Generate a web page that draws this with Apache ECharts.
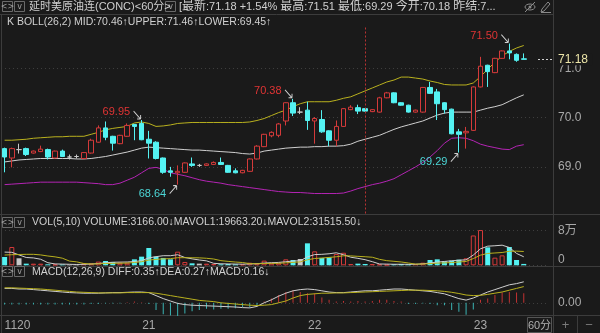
<!DOCTYPE html>
<html><head><meta charset="utf-8">
<script src="https://cdn.jsdelivr.net/npm/echarts@6/dist/echarts.min.js"></script>
<style>html,body{margin:0;padding:0;background:#1a1a1a;}#c{width:600px;height:333px;}</style>
</head><body><div id="c"></div><script>
// ---------- data ----------
const dayLabels = ['1120', '21', '22', '23'];
const dayStarts = [0, 20, 43, 66];

const opens = [69.37,69.18,69.35,69.37,69.28,69.31,69.35,69.18,69.32,69.20,
 69.21,69.17,69.28,69.50,69.79,69.62,69.47,69.62,69.86,69.88,
 69.56,69.50,69.18,68.92,68.88,68.89,69.06,69.03,69.03,69.05,
 69.09,69.03,68.92,68.88,68.91,69.16,69.41,69.63,69.64,69.93,
 70.30,70.11,70.15,69.93,69.96,69.73,69.54,69.82,70.16,70.20,
 70.18,70.12,70.11,70.40,70.50,70.30,70.25,70.11,70.11,70.61,
 70.52,70.30,70.17,69.71,69.69,69.74,70.62,71.06,70.91,71.20,
 71.35,71.28,71.19];
const closes = [69.20,69.37,69.35,69.25,69.32,69.36,69.20,69.32,69.21,69.20,
 69.21,69.29,69.54,69.79,69.60,69.48,69.64,69.84,69.82,69.55,
 69.48,69.17,68.89,68.89,68.91,69.08,69.03,69.03,69.06,69.09,
 69.05,68.89,68.88,68.93,69.16,69.42,69.66,69.70,69.87,70.30,
 70.09,70.11,69.94,69.98,69.71,69.54,69.82,70.18,70.21,70.13,
 70.13,70.16,70.40,70.50,70.30,70.25,70.11,70.15,70.61,70.49,
 70.28,70.16,69.67,69.66,69.72,70.62,71.04,70.93,71.20,71.35,
 71.31,71.16,71.18];
const lows = [68.89,68.99,69.27,69.22,69.27,69.30,69.15,69.17,69.20,69.15,
 69.17,69.16,69.27,69.49,69.54,69.33,69.46,69.61,69.54,69.54,
 69.17,69.15,68.86,68.80,68.64,68.88,69.00,69.00,69.02,69.04,
 69.04,68.88,68.87,68.87,68.90,69.15,69.40,69.60,69.60,69.84,
 70.03,70.07,69.75,69.47,69.69,69.42,69.42,69.81,70.15,70.07,
 70.12,70.11,70.10,70.39,70.29,70.24,70.10,70.10,70.10,70.48,
 69.95,70.08,69.66,69.29,69.37,69.73,70.61,70.62,70.90,71.19,
 71.18,71.13,71.18];
const highs = [69.39,69.39,69.47,69.39,69.33,69.43,69.37,69.33,69.35,69.25,
 69.25,69.30,69.57,69.84,69.92,69.63,69.65,69.88,69.87,69.95,
 69.73,69.52,69.19,69.00,69.03,69.09,69.19,69.06,69.07,69.11,
 69.19,69.04,68.97,68.94,69.17,69.44,69.67,69.72,69.89,70.31,
 70.38,70.21,70.32,70.01,70.15,69.74,69.94,70.19,70.25,70.26,
 70.19,70.17,70.42,70.52,70.51,70.31,70.26,70.16,70.62,70.72,
 70.58,70.31,70.18,69.77,69.81,70.63,71.23,71.07,71.21,71.36,
 71.50,71.30,71.30];

const bollUpper = [69.54,69.54,69.55,69.56,69.58,69.59,69.60,69.61,69.61,69.62,
 69.62,69.62,69.66,69.70,69.75,69.78,69.80,69.82,69.89,69.91,
 69.88,69.82,69.83,69.85,69.88,69.89,69.90,69.90,69.90,69.90,
 69.90,69.90,69.90,69.90,69.91,69.94,69.98,70.04,70.10,70.15,
 70.22,70.28,70.32,70.32,70.32,70.32,70.35,70.39,70.42,70.48,
 70.54,70.60,70.66,70.72,70.76,70.82,70.82,70.80,70.78,70.74,
 70.71,70.67,70.66,70.66,70.66,70.70,70.83,70.98,71.12,71.25,
 71.34,71.41,71.46];
const bollMid = [69.10,69.12,69.14,69.15,69.16,69.17,69.17,69.17,69.17,69.17,
 69.16,69.16,69.17,69.19,69.21,69.24,69.27,69.30,69.34,69.38,
 69.40,69.39,69.38,69.37,69.36,69.35,69.34,69.34,69.33,69.32,
 69.31,69.30,69.29,69.27,69.26,69.28,69.32,69.34,69.36,69.38,
 69.39,69.40,69.40,69.41,69.41,69.42,69.42,69.43,69.46,69.52,
 69.56,69.60,69.64,69.70,69.76,69.81,69.85,69.89,69.93,69.99,
 70.05,70.09,70.11,70.11,70.11,70.11,70.15,70.19,70.22,70.26,
 70.33,70.40,70.46];
const bollLower = [68.64,68.65,68.66,68.67,68.68,68.69,68.69,68.69,68.69,68.69,
 68.69,68.68,68.67,68.66,68.64,68.64,68.67,68.73,68.79,68.88,
 68.97,68.99,68.95,68.88,68.85,68.82,68.78,68.74,68.71,68.69,
 68.67,68.64,68.62,68.60,68.58,68.56,68.54,68.52,68.50,68.49,
 68.48,68.48,68.47,68.46,68.46,68.46,68.46,68.47,68.51,68.56,
 68.60,68.64,68.67,68.71,68.76,68.84,68.92,69.00,69.09,69.20,
 69.33,69.48,69.58,69.59,69.58,69.53,69.46,69.42,69.39,69.36,
 69.35,69.42,69.45];

const volumes = [19200,42300,16200,3800,3800,3800,2300,2000,2000,1500,
 1500,4600,4600,8500,10000,7700,6000,6000,13800,20000,
 40000,20000,17000,13800,31500,7700,4600,3800,3800,3000,
 2300,3000,2300,2300,6000,4600,10800,6000,6000,13800,
 12300,14600,50800,32300,17000,18500,26000,29000,3000,3800,
 3000,3000,2300,1500,2300,3000,2300,3000,6000,12300,
 13800,9200,10800,13000,16200,69000,81500,41500,17700,23000,
 42300,12300,3166];
// moving averages before a full window exists
const mavol1Head = [30500,30000,24000,18000];
const mavol2Head = [23800,24500,25000,25400,25400,24000,21500,19500,16500];

const diffLine = [0.24,0.24,0.23,0.23,0.22,0.21,0.20,0.19,0.18,0.17,
 0.165,0.16,0.16,0.16,0.165,0.17,0.17,0.175,0.18,0.18,
 0.17,0.12,0.07,0.03,-0.01,-0.03,-0.04,-0.045,-0.05,-0.055,
 -0.06,-0.065,-0.07,-0.08,-0.085,-0.06,0.0,0.05,0.11,0.16,
 0.20,0.22,0.23,0.22,0.20,0.18,0.17,0.17,0.18,0.19,
 0.20,0.20,0.21,0.22,0.23,0.23,0.22,0.21,0.20,0.19,
 0.17,0.15,0.11,0.07,0.045,0.08,0.13,0.18,0.22,0.26,
 0.30,0.32,0.35];
const deaLine = [0.25,0.25,0.245,0.24,0.235,0.23,0.22,0.21,0.20,0.19,
 0.18,0.175,0.17,0.165,0.165,0.165,0.165,0.17,0.17,0.17,
 0.17,0.16,0.14,0.12,0.10,0.08,0.06,0.04,0.03,0.02,
 0.0,-0.01,-0.02,-0.03,-0.04,-0.045,-0.04,-0.03,0.0,0.03,
 0.08,0.12,0.14,0.15,0.16,0.16,0.165,0.165,0.17,0.175,
 0.18,0.185,0.19,0.195,0.20,0.205,0.21,0.21,0.21,0.205,
 0.20,0.19,0.175,0.155,0.13,0.12,0.125,0.14,0.16,0.18,
 0.21,0.24,0.27];
const macdHist = [-0.03,-0.03,-0.03,-0.03,-0.03,-0.03,-0.03,-0.03,-0.03,-0.03,
 -0.03,-0.03,-0.02,-0.02,-0.01,-0.01,-0.01,0.01,0.02,0.01,
 -0.02,-0.12,-0.19,-0.21,-0.22,-0.18,-0.14,-0.12,-0.10,-0.11,
 -0.10,-0.10,-0.09,-0.07,-0.08,-0.04,0.02,0.07,0.13,0.18,
 0.21,0.18,0.16,0.16,0.09,0.05,0.02,0.03,0.02,0.03,
 0.02,0.03,0.05,0.05,0.03,0.02,-0.02,-0.02,-0.01,-0.02,
 -0.04,-0.04,-0.12,-0.15,-0.20,-0.11,0.05,0.07,0.13,0.17,
 0.18,0.17,0.16];

const priceTicks = [69, 70, 71];
const volTicks = [0, 80000];
const macdTicks = [0];
const lastPrice = 71.18;
const markHighIdx = [19, 40, 70];
const markLowIdx = [24, 63];
const sessionLineIdx = 50;

// ---------- derived ----------
const categories = opens.map((_, i) => {
  let d = 0;
  for (let k = 0; k < dayStarts.length; k++) if (i >= dayStarts[k]) d = k;
  return dayLabels[d] + '-' + (i - dayStarts[d] + 1);
});
function movingAvg(arr, n, head) {
  return arr.map((v, i) => {
    if (i < n - 1) return head[i];
    let s = 0; for (let k = i - n + 1; k <= i; k++) s += arr[k];
    return Math.round(s / n);
  });
}
const mavol1 = movingAvg(volumes, 5, mavol1Head);
const mavol2 = movingAvg(volumes, 10, mavol2Head);

const BG = '#1a1a1a', RED = '#d43a3a', CYAN = '#54f2f2', DOJI = '#c8c8c8';
const YEL = '#b9b11e', WHITE = '#cfcfcf', MAG = '#b424b4';

const candleData = opens.map((o, i) => {
  const item = { value: [o, closes[i], lows[i], highs[i]] };
  if (o === closes[i]) item.itemStyle = { color: DOJI, borderColor: DOJI, borderColor0: DOJI, color0: DOJI };
  return item;
});
const volData = volumes.map((v, i) => {
  const up = closes[i] > opens[i], dn = closes[i] < opens[i];
  return { value: v, itemStyle: up ? { color: BG, borderColor: RED, borderWidth: 1 }
    : dn ? { color: CYAN } : { color: DOJI } };
});
const histData = macdHist.map(v => ({ value: v, itemStyle: { color: v >= 0 ? '#c23232' : '#3ab4b4' } }));

const arrowHigh = 'path://M0,0L10,10M10,10L5,10M10,10L10,5';
const arrowLow = 'path://M0,10L10,0M10,0L5,0M10,0L10,5';
const markPts = [];
markHighIdx.forEach(i => markPts.push({
  coord: [i, highs[i]], value: highs[i], symbol: arrowHigh, symbolSize: [7, 8], symbolOffset: [-4.5, -5],
  itemStyle: { color: 'transparent', borderColor: '#cfcfcf', borderWidth: 1 },
  label: { show: true, position: 'left', distance: 3, offset: [0, -3], formatter: highs[i].toFixed(2), color: '#e03434', fontSize: 11, fontFamily: 'Liberation Sans' }
}));
markLowIdx.forEach(i => markPts.push({
  coord: [i, lows[i]], value: lows[i], symbol: arrowLow, symbolSize: [7, 8], symbolOffset: [-4.5, 5],
  itemStyle: { color: 'transparent', borderColor: '#cfcfcf', borderWidth: 1 },
  label: { show: true, position: 'left', distance: 3, offset: [0, 4], formatter: lows[i].toFixed(2), color: '#4cd6d6', fontSize: 11, fontFamily: 'Liberation Sans' }
}));

const FONT = '"Liberation Sans", "Noto Sans CJK SC", sans-serif';
const GRID_L = 1, GRID_W = 548, XMAX = 75;
const grids = [
  { left: GRID_L, width: GRID_W, top: 27, height: 186.5 },
  { left: GRID_L, width: GRID_W, top: 226, height: 39.3 },
  { left: GRID_L, width: GRID_W, top: 277, height: 39 }
];
function xAx(g, showLabel) {
  return {
    type: 'category', gridIndex: g, data: categories, max: XMAX, boundaryGap: true,
    axisLine: { show: false }, axisTick: { show: false }, splitLine: { show: false },
    axisLabel: showLabel ? {
      show: true, interval: (idx) => dayStarts.indexOf(idx) >= 0,
      formatter: (v) => (v || '').split('-')[0], color: '#a8a8a8', fontSize: 12, fontFamily: FONT,
      margin: 4, alignMinLabel: 'left'
    } : { show: false }
  };
}
const splitDotted = { show: true, lineStyle: { color: '#3e3e3e', type: [1, 3], width: 1 } };
function yAx(g, min, max, ticks, fmt, labelExtra) {
  return {
    type: 'value', gridIndex: g, position: 'right', offset: 4, min: min, max: max, scale: true,
    axisLine: { show: false }, axisTick: { show: false, customValues: ticks },
    splitLine: splitDotted,
    axisLabel: Object.assign({ customValues: ticks, formatter: fmt, color: '#a8a8a8', fontSize: 12, fontFamily: FONT, margin: 5 }, labelExtra || {})
  };
}
const lineS = (name, x, y, data, color) => ({
  name, type: 'line', xAxisIndex: x, yAxisIndex: y, data, symbol: 'none', showSymbol: false,
  lineStyle: { color, width: 1 }, silent: true, z: 2
});

function iconBox(x, y, txt) {
  return [
    { type: 'rect', shape: { x: x + 0.5, y: y + 0.5, width: 10, height: 10 }, style: { fill: 'none', stroke: '#6a6a6a', lineWidth: 1 } },
    { type: 'text', x: x + 5.5, y: y + 6, style: { text: txt, fill: '#a0a0a0', fontSize: 8, align: 'center', verticalAlign: 'middle', fontFamily: 'DejaVu Sans' } }
  ];
}
const hl = (y, x1, x2) => ({ type: 'line', shape: { x1, y1: y, x2, y2: y }, style: { stroke: '#3c3c3c', lineWidth: 1 } });
const vl = (x, y1, y2) => ({ type: 'line', shape: { x1: x, y1, x2: x, y2 }, style: { stroke: '#3c3c3c', lineWidth: 1 } });
const rt = (x, y, text, rich) => ({ type: 'text', x, y, style: { text, rich, fontSize: 11, fontFamily: FONT, verticalAlign: 'middle', fill: '#d0d0d0' } });
function richSet(sz, cjk) {
  const mk = c => ({ color: c, fontSize: sz, fontFamily: FONT });
  return {
    w: mk('#d6d6d6'), r: mk('#ee3535'), g: mk('#22c322'), y: mk('#e6e62a'), m: mk('#e03ce0'),
    c: { color: '#d6d6d6', fontSize: cjk || sz, fontFamily: FONT }
  };
}
const R11 = richSet(11, 12);
const R10 = richSet(10.5);

const graphics = [
  hl(14.5, 0, 553), vl(553.5, 0, 333), vl(1.5, 14, 333),
  hl(214.5, 0, 600), hl(266.5, 0, 600), hl(315.5, 0, 600), vl(577.5, 315, 333),
  ...iconBox(2, 1, '<>'), ...iconBox(14, 1, 'v'), ...iconBox(165, 1, 'v'),
  ...iconBox(2, 217, '<>'), ...iconBox(14, 217, 'v'),
  ...iconBox(2, 266, '<>'), ...iconBox(14, 266, 'v'),
  rt(29, 7, '{w|延时美原油连(CONC)<60分>}', R11),
  rt(179, 7, '{w|[}{c|最新}{w|:}{r|71.18 +1.54%}{w| }{c|最高}{w|:}{r|71.51}{w| }{c|最低}{w|:}{g|69.29}{w| }{c|今开}{w|:}{r|70.18}{w| }{c|昨结}{w|:7...}', R11),
  rt(7, 22, '{w|K BOLL(26,2) MID:70.46}{r|↑}{y|UPPER:71.46}{r|↑}{m|LOWER:69.45}{r|↑}', R10),
  rt(32, 222, '{w|VOL(5,10) VOLUME:3166.00}{g|↓}{w|MAVOL1:19663.20}{g|↓}{y|MAVOL2:31515.50}{g|↓}', R10),
  rt(32, 272, '{w|MACD(12,26,9) DIFF:0.35}{r|↑}{y|DEA:0.27}{r|↑}{w|MACD:0.16}{g|↓}', R10),
  // eye & pencil icons
  { type: 'ellipse', shape: { cx: 530, cy: 7, rx: 5, ry: 3 }, style: { fill: 'none', stroke: '#8a8a8a', lineWidth: 1 } },
  { type: 'circle', shape: { cx: 530, cy: 7, r: 1.5 }, style: { fill: '#8a8a8a' } },
  { type: 'line', shape: { x1: 525, y1: 12, x2: 535, y2: 2 }, style: { stroke: '#8a8a8a', lineWidth: 1 } },
  { type: 'polyline', shape: { points: [[541, 12], [542, 9], [548, 2], [550, 4], [544, 11], [541, 12]] }, style: { fill: 'none', stroke: '#8a8a8a', lineWidth: 1 } },
  { type: 'line', shape: { x1: 541, y1: 12.5, x2: 551, y2: 12.5 }, style: { stroke: '#8a8a8a', lineWidth: 1 } },
  // bottom buttons
  { type: 'rect', shape: { x: 527.5, y: 317.5, width: 24, height: 15 }, style: { fill: 'none', stroke: '#555', lineWidth: 1 } },
  { type: 'text', x: 539.5, y: 325.5, style: { text: '60分', fill: '#b0b0b0', fontSize: 11, fontFamily: FONT, align: 'center', verticalAlign: 'middle' } },
  { type: 'text', x: 565.5, y: 325, style: { text: '+', fill: '#7a7a7a', fontSize: 13, fontFamily: FONT, align: 'center', verticalAlign: 'middle' } },
  { type: 'text', x: 589, y: 325, style: { text: '−', fill: '#7a7a7a', fontSize: 13, fontFamily: FONT, align: 'center', verticalAlign: 'middle' } }
];

const chart = echarts.init(document.getElementById('c'), null, { renderer: 'canvas' });
chart.setOption({
  backgroundColor: BG,
  animation: false,
  grid: grids,
  xAxis: [xAx(0, false), xAx(1, false), xAx(2, true)],
  yAxis: [
    yAx(0, 68.055, 71.835, priceTicks, v => v.toFixed(1)),
    yAx(1, 0, 90870, volTicks, v => v === 0 ? '0' : (v / 10000) + '万', { verticalAlignMinLabel: 'bottom' }),
    yAx(2, -0.22, 0.43, macdTicks, v => v.toFixed(2))
  ],
  graphic: graphics,
  series: [
    lineS('UPPER', 0, 0, bollUpper, YEL),
    lineS('MID', 0, 0, bollMid, WHITE),
    lineS('LOWER', 0, 0, bollLower, MAG),
    {
      name: 'K', type: 'candlestick', xAxisIndex: 0, yAxisIndex: 0, data: candleData, barWidth: 5, z: 3,
      itemStyle: { color: BG, color0: CYAN, borderColor: RED, borderColor0: CYAN, borderWidth: 1 },
      markPoint: { silent: true, animation: false, data: markPts },
      markLine: {
        silent: true, animation: false, symbol: ['none', 'none'],
        data: [
          { xAxis: sessionLineIdx, lineStyle: { color: '#b83232', type: [2, 2], width: 1 }, label: { show: false } }
        ]
      }
    },
    { name: 'VOL', type: 'bar', xAxisIndex: 1, yAxisIndex: 1, data: volData, barWidth: 5, z: 2 },
    lineS('MAVOL1', 1, 1, mavol1, WHITE),
    lineS('MAVOL2', 1, 1, mavol2, YEL),
    { name: 'MACD', type: 'bar', xAxisIndex: 2, yAxisIndex: 2, data: histData, barWidth: 1, z: 2 },
    lineS('DIFF', 2, 2, diffLine, WHITE),
    lineS('DEA', 2, 2, deaLine, YEL)
  ]
});

// last-price tag placed through the price axis scale
const yLast = chart.convertToPixel({ yAxisIndex: 0 }, lastPrice);
chart.setOption({
  graphic: graphics.concat([
    { type: 'line', z: 50, shape: { x1: 538, y1: Math.round(yLast) + 0.5, x2: 553, y2: Math.round(yLast) + 0.5 },
      style: { stroke: '#cfcfcf', lineWidth: 1, lineDash: [2, 2] } },
    { type: 'text', z: 50, x: 557, y: yLast, style: { text: lastPrice.toFixed(2), fill: '#ece5a8', fontSize: 12, fontFamily: FONT,
      verticalAlign: 'middle', backgroundColor: BG, padding: [0, 4, 0, 1] } }
  ])
});
</script></body></html>
